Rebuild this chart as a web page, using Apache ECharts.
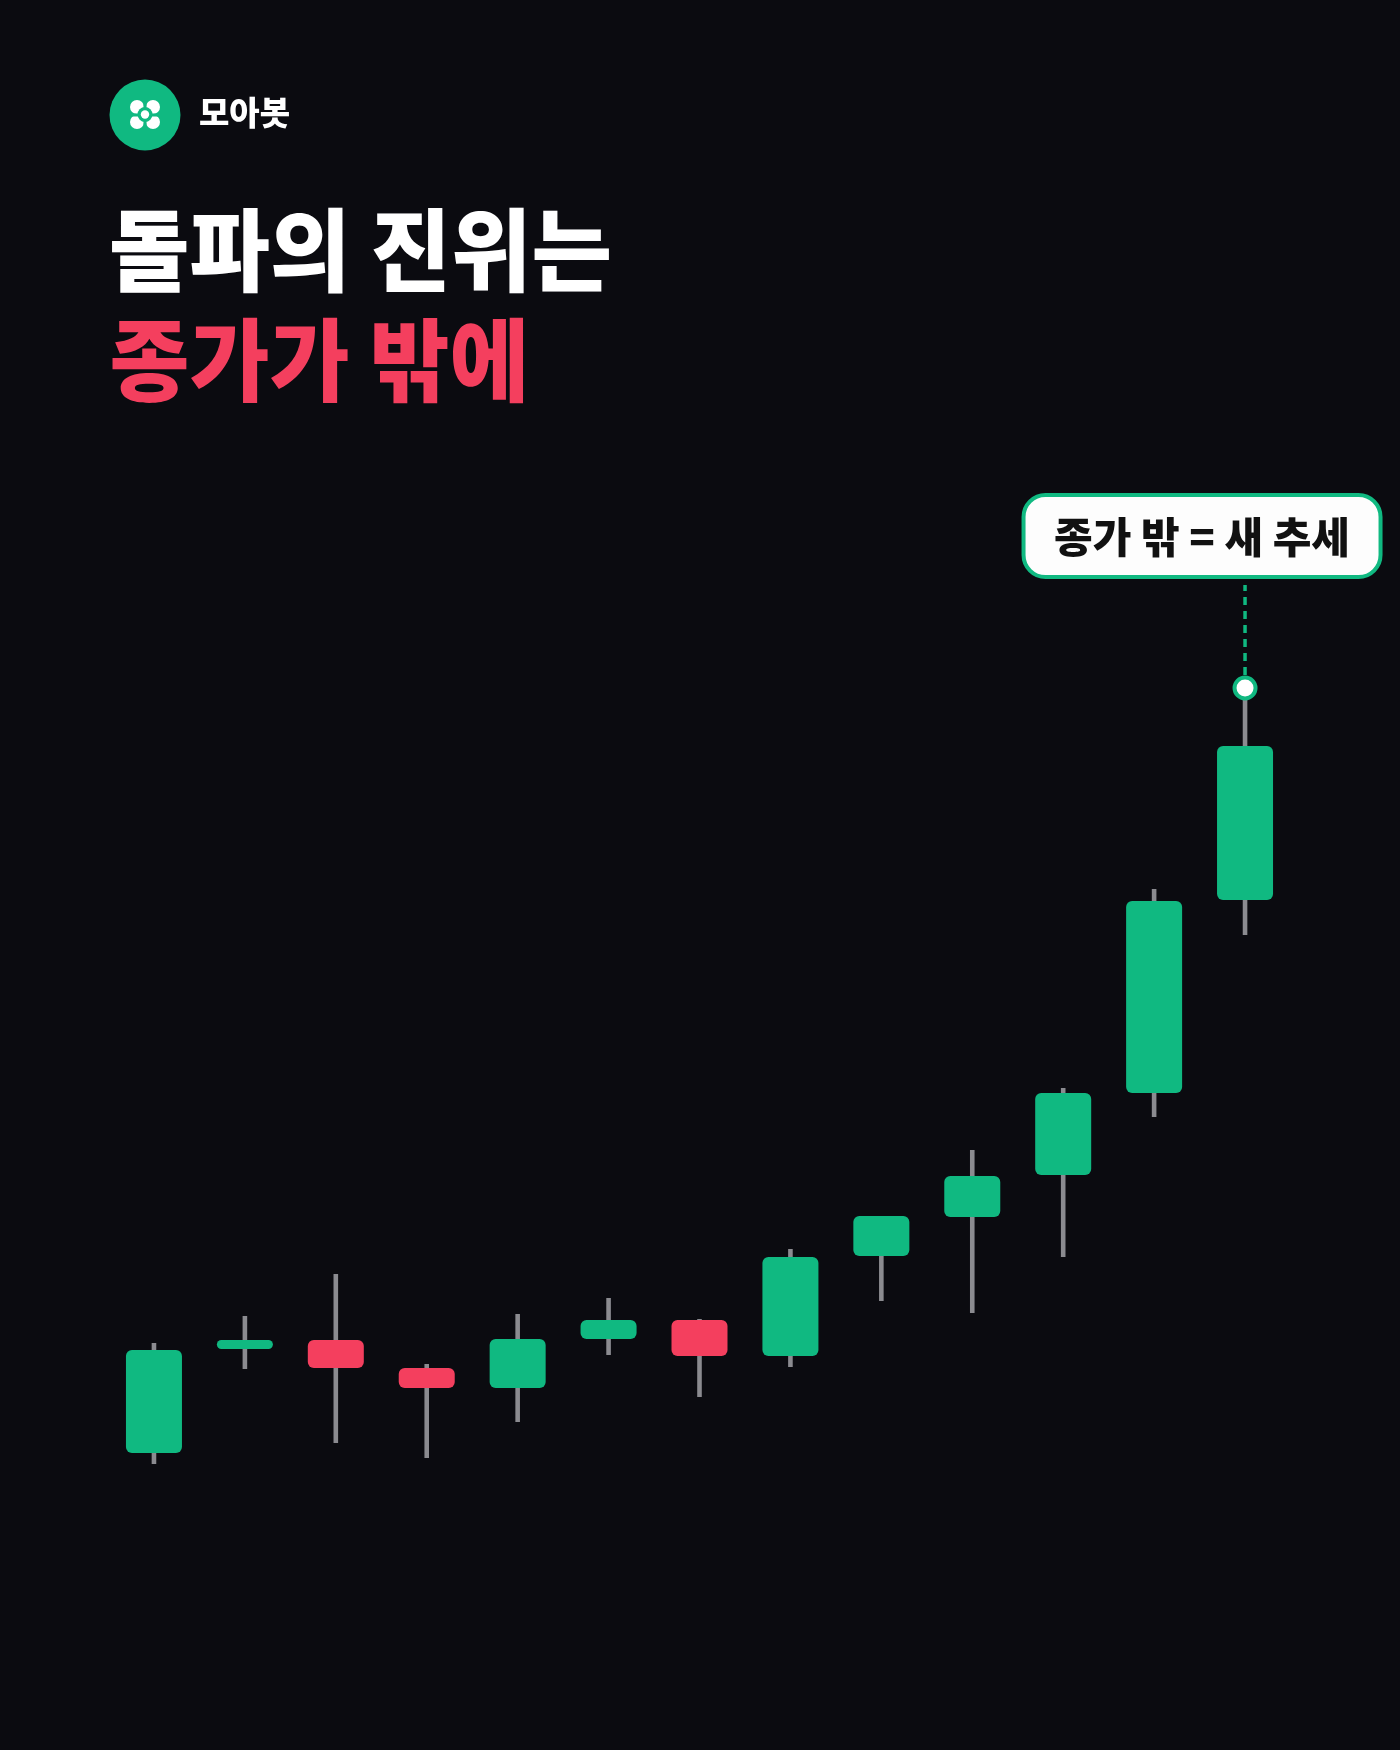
<!DOCTYPE html>
<html>
<head>
<meta charset="utf-8">
<script src="https://cdn.jsdelivr.net/npm/echarts@6/dist/echarts.min.js"></script>
<style>
  html, body { margin: 0; padding: 0; background: #0b0b10; }
  #chart { width: 1400px; height: 1750px; }
</style>
</head>
<body>
<div id="chart"></div>
<script>
// ---- data (arbitrary price units) ----
const categories = ['1','2','3','4','5','6','7','8','9','10','11','12','13'];
const opens  = [4.7, 15.1, 16.0, 13.2, 11.2, 16.1, 18.0, 14.4, 24.4, 28.3, 32.5, 40.7, 60.0];
const closes = [15.0, 16.0, 13.2, 11.2, 16.1, 18.0, 14.4, 24.3, 28.4, 32.4, 40.7, 59.9, 75.4];
const lows   = [3.6, 13.1, 5.7, 4.2, 7.8, 14.5, 10.3, 13.3, 19.9, 18.7, 24.3, 38.3, 56.5];
const highs  = [15.7, 18.4, 22.6, 13.6, 18.6, 20.2, 18.1, 25.1, 28.4, 35.0, 41.2, 61.1, 81.2];
const brandName = '모아봇';
const titleLine1 = '돌파의 진위는';
const titleLine2 = '종가가 밖에';
const calloutText = '종가 밖 = 새 추세';
const calloutIndex = 12;

const GREEN = '#10b981';
const RED = '#f43f5e';
const WICK = '#8b8b90';
const BG = '#0b0b10';
const FONT = '"Noto Sans CJK KR", "Noto Sans", sans-serif';

const seriesData = categories.map((c, i) => [i, opens[i], closes[i], lows[i], highs[i]]);

function renderItem(params, api) {
  const i = api.value(0);
  const o = api.value(1), c = api.value(2), l = api.value(3), h = api.value(4);
  const pO = api.coord([i, o]);
  const pC = api.coord([i, c]);
  const pL = api.coord([i, l]);
  const pH = api.coord([i, h]);
  const x = pO[0];
  const bw = api.size([1, 0])[0] * 0.616;
  const top = Math.min(pO[1], pC[1]);
  const bot = Math.max(pO[1], pC[1]);
  const bh = Math.max(bot - top, 2);
  const up = c >= o;
  const r = Math.min(6, bh / 2);
  const children = [
    { type: 'line', shape: { x1: x, y1: pH[1], x2: x, y2: pL[1] },
      style: { stroke: WICK, lineWidth: 4.6 } },
    { type: 'rect', shape: { x: x - bw / 2, y: top, width: bw, height: bh, r: r },
      style: { fill: up ? GREEN : RED } }
  ];
  if (i === calloutIndex) {
    const boxW = 357, boxH = 82;
    const boxCx = x - 43;
    const boxBottom = pH[1] - 111;
    children.push(
      { type: 'line', shape: { x1: x, y1: pH[1] - 13, x2: x, y2: boxBottom + 8 },
        style: { stroke: GREEN, lineWidth: 3.5, lineDash: [8, 6] } },
      { type: 'circle', shape: { cx: x, cy: pH[1], r: 10.5 },
        style: { fill: '#ffffff', stroke: GREEN, lineWidth: 4 } },
      { type: 'rect', shape: { x: boxCx - boxW / 2, y: boxBottom - boxH, width: boxW, height: boxH, r: 22 },
        style: { fill: '#fdfdfd', stroke: GREEN, lineWidth: 4 } },
      { type: 'text', x: boxCx, y: boxBottom - boxH / 2 + 1,
        style: { text: calloutText, fill: '#111111', font: '900 42px ' + FONT,
                 align: 'center', verticalAlign: 'middle' } }
    );
  }
  return { type: 'group', children: children };
}

const chart = echarts.init(document.getElementById('chart'), null, { renderer: 'canvas' });
chart.setOption({
  backgroundColor: BG,
  animation: false,
  grid: { left: 108.5, right: 109.5, top: 500, height: 1000 },
  xAxis: { type: 'category', data: categories, boundaryGap: true, show: false },
  yAxis: { type: 'value', min: 0, max: 100, show: false },
  series: [{
    type: 'custom',
    renderItem: renderItem,
    data: seriesData,
    encode: { x: 0, y: [1, 2, 3, 4] },
    clip: false,
    z: 5
  }],
  graphic: [
    { type: 'circle', shape: { cx: 145, cy: 115, r: 35.5 }, style: { fill: GREEN } },
    { type: 'circle', shape: { cx: 137, cy: 107, r: 7 }, style: { fill: '#fff' } },
    { type: 'circle', shape: { cx: 153, cy: 107, r: 7 }, style: { fill: '#fff' } },
    { type: 'circle', shape: { cx: 137, cy: 122, r: 7 }, style: { fill: '#fff' } },
    { type: 'circle', shape: { cx: 153, cy: 122, r: 7 }, style: { fill: '#fff' } },
    { type: 'rect', shape: { x: 143.5, y: 98, width: 3, height: 33 }, style: { fill: GREEN } },
    { type: 'rect', shape: { x: 128, y: 113.5, width: 34, height: 3 }, style: { fill: GREEN } },
    { type: 'circle', shape: { cx: 145, cy: 114.5, r: 7.5 }, style: { fill: GREEN } },
    { type: 'circle', shape: { cx: 145, cy: 114.5, r: 4.2 }, style: { fill: '#fff' } },
    { type: 'text', left: 199, top: 96,
      style: { text: brandName, fill: '#ffffff', font: '900 33px ' + FONT } },
    { type: 'text', x: 106, y: 250, scaleX: 0.972, originX: 106, originY: 250,
      style: { text: titleLine1, fill: '#ffffff', font: '900 90px ' + FONT,
               verticalAlign: 'middle', align: 'left' } },
    { type: 'text', x: 106, y: 360, scaleX: 0.966, originX: 106, originY: 360,
      style: { text: titleLine2, fill: RED, font: '900 90px ' + FONT,
               verticalAlign: 'middle', align: 'left' } }
  ]
});
</script>
</body>
</html>
